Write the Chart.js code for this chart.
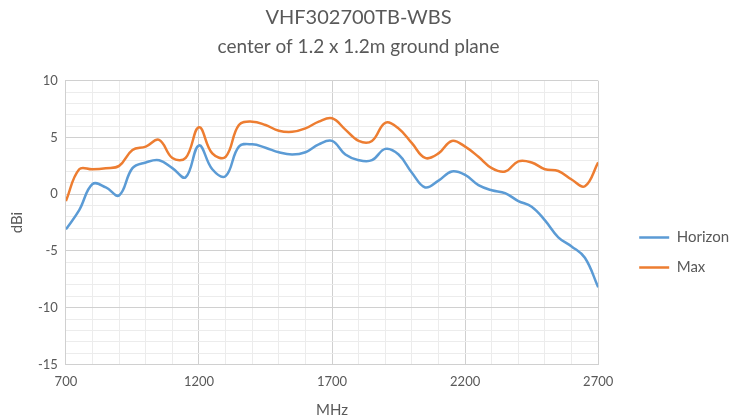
<!DOCTYPE html>
<html>
<head>
<meta charset="utf-8">
<script src="https://cdn.jsdelivr.net/npm/chart.js@4"></script>
<style>
  html, body { margin: 0; padding: 0; background: #ffffff; }
  #wrap { width: 730px; height: 419px; }
</style>
</head>
<body>
<div id="wrap"><canvas id="gain-chart"></canvas></div>
<script>
// Frequencies in MHz (x axis)
const freqs = [700, 750, 800, 850, 900, 950, 1000, 1050, 1100, 1150,
  1200, 1250, 1300, 1350, 1400, 1450, 1500, 1550, 1600, 1650,
  1700, 1750, 1800, 1850, 1900, 1950, 2000, 2050, 2100, 2150,
  2200, 2250, 2300, 2350, 2400, 2450, 2500, 2550, 2600, 2650, 2700];

// Gain at the horizon, dBi
const horizon = [-3.1, -1.4, 0.9, 0.6, -0.1, 2.3, 2.8, 3.0, 2.3, 1.5,
  4.3, 2.2, 1.6, 4.2, 4.4, 4.1, 3.7, 3.5, 3.7, 4.4,
  4.7, 3.5, 3.0, 3.0, 4.0, 3.5, 1.9, 0.6, 1.2, 2.0,
  1.7, 0.8, 0.35, 0.1, -0.6, -1.1, -2.3, -3.8, -4.6, -5.6, -8.2];

// Max gain, dBi
const maxGain = [-0.6, 2.2, 2.2, 2.3, 2.5, 3.9, 4.2, 4.8, 3.2, 3.2,
  5.9, 3.6, 3.3, 6.1, 6.4, 6.1, 5.6, 5.5, 5.8, 6.4,
  6.7, 5.7, 4.7, 4.7, 6.3, 5.8, 4.5, 3.2, 3.6, 4.7,
  4.2, 3.3, 2.3, 2.0, 2.9, 2.8, 2.2, 2.05, 1.3, 0.7, 2.8];

// Labelled ticks
const xLabels = [700, 1200, 1700, 2200, 2700];
const yLabels = [-15, -10, -5, 0, 5, 10];

const textColor = '#595959';
const fontFamily = 'Lato, "Open Sans", sans-serif';

// nudge the legend to where Excel put it (right of the plot, a bit below centre)
const legendNudge = {
  id: 'legendNudge',
  afterLayout(chart) {
    const lg = chart.legend;
    lg.left += 26;
    lg.right += 26;
    lg.top += 43;
    lg.bottom += 43;
  }
};

let canvasElement = document.getElementById('gain-chart');

let config = {
  type: 'line',
  data: {
    datasets: [
      {
        label: 'Horizon',
        data: freqs.map((f, i) => ({ x: f, y: horizon[i] })),
        borderColor: '#5b9bd5',
        backgroundColor: '#5b9bd5',
        borderWidth: 2.5,
        pointRadius: 0,
        tension: 0.4
      },
      {
        label: 'Max',
        data: freqs.map((f, i) => ({ x: f, y: maxGain[i] })),
        borderColor: '#ed7d31',
        backgroundColor: '#ed7d31',
        borderWidth: 2.5,
        pointRadius: 0,
        tension: 0.4
      }
    ]
  },
  options: {
    responsive: true,
    maintainAspectRatio: false,
    animation: false,
    layout: { padding: { left: 4, right: 17, top: 0, bottom: 0 } },
    plugins: {
      title: {
        display: true,
        text: 'VHF302700TB-WBS',
        color: textColor,
        font: { family: fontFamily, size: 20, weight: 'normal' },
        padding: { top: 6, bottom: 2 }
      },
      subtitle: {
        display: true,
        text: 'center of 1.2 x 1.2m ground plane',
        color: textColor,
        font: { family: fontFamily, size: 19, weight: 'normal' },
        padding: { top: 3, bottom: 23 }
      },
      legend: {
        position: 'right',
        labels: {
          boxWidth: 30,
          boxHeight: 0,
          padding: 15,
          color: textColor,
          font: { family: fontFamily, size: 15 }
        }
      },
      tooltip: { enabled: false }
    },
    scales: {
      x: {
        type: 'linear',
        min: 700,
        max: 2700,
        title: {
          display: true,
          text: 'MHz',
          color: textColor,
          font: { family: fontFamily, size: 15 },
          padding: { top: 1, bottom: 0 }
        },
        ticks: {
          stepSize: 100,
          autoSkip: false,
          maxRotation: 0,
          padding: 10,
          color: textColor,
          font: { family: fontFamily, size: 13 },
          callback: v => xLabels.includes(v) ? String(v) : ''
        },
        grid: {
          color: ctx => xLabels.includes(ctx.tick.value) ? '#d0d0d0' : '#ececec',
          drawTicks: false
        },
        border: { color: '#d0d0d0' }
      },
      y: {
        min: -15,
        max: 10,
        title: {
          display: true,
          text: 'dBi',
          color: textColor,
          font: { family: fontFamily, size: 15 }
        },
        ticks: {
          stepSize: 1,
          autoSkip: false,
          color: textColor,
          font: { family: fontFamily, size: 13 },
          padding: 8,
          callback: v => yLabels.includes(v) ? String(v) : ''
        },
        grid: {
          color: ctx => yLabels.includes(ctx.tick.value) ? '#d0d0d0' : '#ececec',
          drawTicks: false
        },
        border: { color: '#d0d0d0' }
      }
    }
  },
  plugins: [legendNudge]
};

let gainChart = new Chart(canvasElement, config);
</script>
</body>
</html>
